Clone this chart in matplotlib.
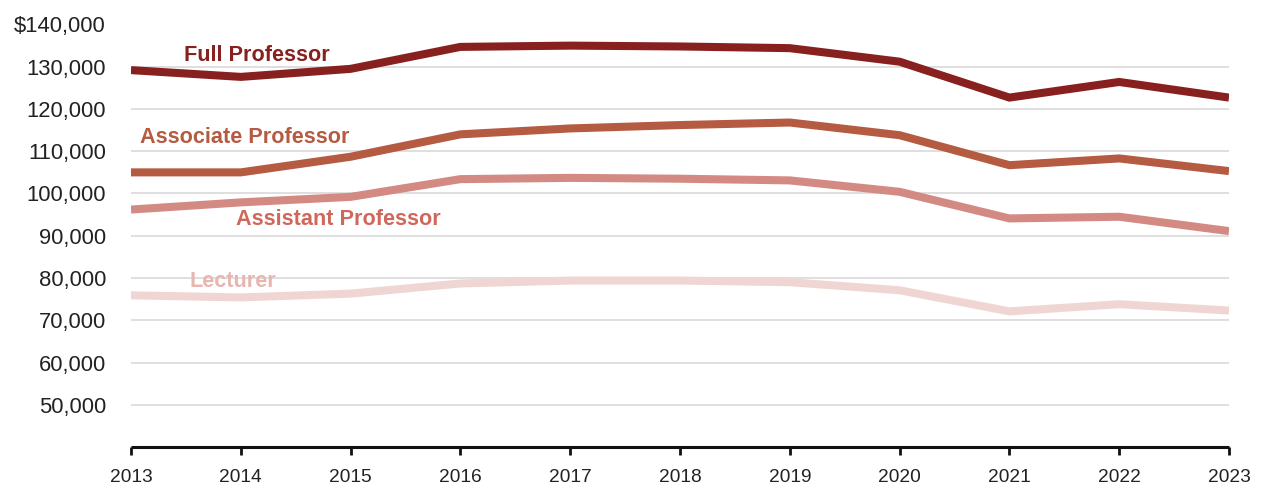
import matplotlib
matplotlib.use("Agg")
import matplotlib.pyplot as plt
from matplotlib.ticker import FuncFormatter

years = [2013, 2014, 2015, 2016, 2017, 2018, 2019, 2020, 2021, 2022, 2023]

full_professor = [129200, 127600, 129500, 134700, 135000, 134800, 134400, 131200, 122700, 126400, 122700]
associate_professor = [105000, 105000, 108700, 114000, 115400, 116200, 116800, 113800, 106700, 108300, 105300]
assistant_professor = [96200, 97900, 99200, 103400, 103700, 103500, 103100, 100400, 94100, 94500, 91100]
lecturer = [75900, 75400, 76300, 78700, 79400, 79400, 79000, 77100, 72100, 73800, 72300]

series_names = ["Full Professor", "Associate Professor", "Assistant Professor", "Lecturer"]
line_colors = ["#87201E", "#B55B41", "#D38A82", "#F0D6D2"]
label_colors = ["#87201E", "#B55B41", "#D0675B", "#E8B6B0"]
# label anchors (year, salary) for the inline series names
label_pos = [(2014.15, 132700), (2014.04, 113200), (2014.89, 93800), (2013.93, 79100)]

y_ticks = [50000, 60000, 70000, 80000, 90000, 100000, 110000, 120000, 130000, 140000]

plt.rcParams["font.family"] = ["Liberation Sans", "DejaVu Sans"]

fig = plt.figure(figsize=(12.62, 4.87), dpi=100)
ax = fig.add_axes([131 / 1262, 40 / 487, (1229 - 131) / 1262, (447 - 24.5) / 487])

for vals, col in zip([full_professor, associate_professor, assistant_professor, lecturer], line_colors):
    ax.plot(years, vals, color=col, lw=5.8, solid_joinstyle="miter", solid_capstyle="butt", zorder=3)

for name, col, (x, y) in zip(series_names, label_colors, label_pos):
    ax.text(x, y, name, color=col, fontsize=15.6, fontweight="bold", ha="center", va="center", zorder=4)

ax.set_xlim(2013, 2023)
ax.set_ylim(40000, 140000)
ax.set_xticks(years)
ax.set_yticks(y_ticks)
ax.yaxis.set_major_formatter(FuncFormatter(lambda v, p: f"${v:,.0f}" if v == 140000 else f"{v:,.0f}"))

for s in ["top", "right", "left"]:
    ax.spines[s].set_visible(False)
ax.spines["bottom"].set_linewidth(2.2)
ax.spines["bottom"].set_color("#111111")
ax.spines["bottom"].set_capstyle("butt")

ax.tick_params(axis="x", length=6, width=2, color="#111111", labelsize=13.8, labelcolor="#222222", pad=10)
ax.tick_params(axis="y", length=0, labelsize=15.8, labelcolor="#222222", pad=18)

ax.grid(axis="y", color="#d6d6d6", lw=1.1, zorder=0)
ax.set_axisbelow(True)

fig.savefig("out.png", dpi=100)
